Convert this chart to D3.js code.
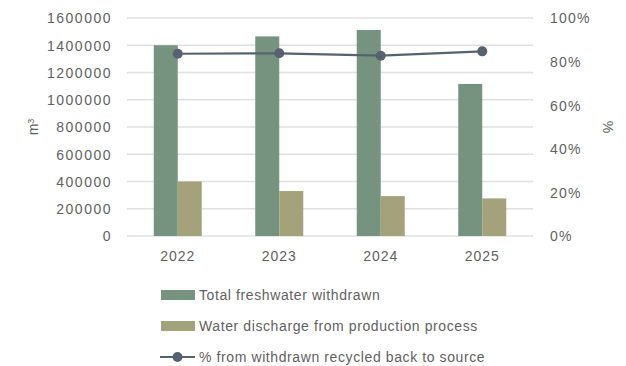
<!DOCTYPE html>
<html>
<head>
<meta charset="UTF-8">
<script src="https://d3js.org/d3.v7.min.js"></script>
<style>
  body { margin: 0; background: #fff; }
  svg text { font-family: "Liberation Sans", Arial, sans-serif; fill: #5f5f5f; }
</style>
</head>
<body>
<svg id="chart" width="626" height="366"></svg>
<script>
// data
const years = ["2022", "2023", "2024", "2025"];
const withdrawn = [1400000, 1465000, 1512000, 1116000];
const discharge = [400000, 330000, 293000, 276000];
const recycledPct = [0.836, 0.838, 0.827, 0.847];
const leftTicks = [0, 200000, 400000, 600000, 800000, 1000000, 1200000, 1400000, 1600000];
const rightTicks = [0, 0.2, 0.4, 0.6, 0.8, 1];
const legendLabels = ["Total freshwater withdrawn", "Water discharge from production process", "% from withdrawn recycled back to source"];

const green = "#76937f", tan = "#a3a27b", lineCol = "#566270";

const svg = d3.select("#chart");
const m = { left: 127, right: 93, top: 18, bottom: 130 };
const W = 626, H = 366;

const x = d3.scaleBand().domain(years).range([m.left, W - m.right]);
const yL = d3.scaleLinear().domain([0, 1600000]).range([H - m.bottom, m.top]);
const yR = d3.scaleLinear().domain([0, 1]).range([H - m.bottom, m.top]);
const barW = 24;

// gridlines
svg.append("g")
    .selectAll("line")
    .data(leftTicks)
    .join("line")
    .attr("x1", m.left).attr("x2", W - m.right)
    .attr("y1", d => yL(d)).attr("y2", d => yL(d))
    .attr("stroke", "#e0e0e0").attr("stroke-width", 1.3);

// left axis
const gl = svg.append("g")
    .attr("transform", `translate(${m.left - 15},0)`)
    .call(d3.axisLeft(yL).tickValues(leftTicks).tickSize(0).tickPadding(0).tickFormat(d3.format("d")));
gl.select(".domain").remove();
gl.selectAll("text").style("font-size", "14px").style("letter-spacing", "1.5px").attr("dy", "0.35em");

// right axis
const gr = svg.append("g")
    .attr("transform", `translate(${W - m.right + 17},0)`)
    .call(d3.axisRight(yR).tickValues(rightTicks).tickSize(0).tickPadding(0).tickFormat(d => Math.round(d * 100) + "%"));
gr.select(".domain").remove();
gr.selectAll("text").style("font-size", "14px").style("letter-spacing", "1.2px").attr("dy", "0.35em");

// x axis
const gx = svg.append("g")
    .attr("transform", `translate(0,${H - m.bottom + 15})`)
    .call(d3.axisBottom(x).tickSize(0).tickPadding(0));
gx.select(".domain").remove();
gx.selectAll("text").style("font-size", "14px").style("letter-spacing", "1px").attr("dy", "0.71em");

// bars
svg.append("g").selectAll("rect")
    .data(years)
    .join("rect")
    .attr("x", d => x(d) + x.bandwidth() / 2 - barW)
    .attr("y", (d, i) => yL(withdrawn[i]))
    .attr("width", barW)
    .attr("height", (d, i) => yL(0) - yL(withdrawn[i]))
    .attr("fill", green);

svg.append("g").selectAll("rect")
    .data(years)
    .join("rect")
    .attr("x", d => x(d) + x.bandwidth() / 2)
    .attr("y", (d, i) => yL(discharge[i]))
    .attr("width", barW)
    .attr("height", (d, i) => yL(0) - yL(discharge[i]))
    .attr("fill", tan);

// line
const line = d3.line()
    .x(d => x(d.year) + x.bandwidth() / 2)
    .y(d => yR(d.v));
const pts = years.map((y, i) => ({ year: y, v: recycledPct[i] }));
svg.append("path")
    .datum(pts)
    .attr("d", line)
    .attr("fill", "none")
    .attr("stroke", lineCol)
    .attr("stroke-width", 2.2);
svg.append("g").selectAll("circle")
    .data(pts)
    .join("circle")
    .attr("cx", d => x(d.year) + x.bandwidth() / 2)
    .attr("cy", d => yR(d.v))
    .attr("r", 5)
    .attr("fill", lineCol);

// axis titles
const m3 = svg.append("text")
    .attr("transform", `translate(38,${(m.top + H - m.bottom) / 2}) rotate(-90)`)
    .attr("text-anchor", "middle")
    .style("font-size", "14px");
m3.append("tspan").text("m");
m3.append("tspan").attr("dy", "-0.45em").style("font-size", "9px").text("3");

svg.append("text")
    .attr("transform", `translate(603,${(m.top + H - m.bottom) / 2}) rotate(90)`)
    .attr("text-anchor", "middle")
    .style("font-size", "14px")
    .text("%");

// legend
const lg = svg.append("g");
const rowY = [295, 326, 357];
[green, tan].forEach((c, i) => {
    lg.append("rect")
        .attr("x", 161).attr("y", rowY[i] - 5)
        .attr("width", 34).attr("height", 10)
        .attr("fill", c);
});
lg.append("line")
    .attr("x1", 160).attr("x2", 195)
    .attr("y1", rowY[2]).attr("y2", rowY[2])
    .attr("stroke", lineCol).attr("stroke-width", 2.2);
lg.append("circle")
    .attr("cx", 177.5).attr("cy", rowY[2]).attr("r", 5).attr("fill", lineCol);
legendLabels.forEach((t, i) => {
    lg.append("text")
        .attr("x", 199).attr("y", rowY[i])
        .attr("dy", "0.35em")
        .style("font-size", "14px")
        .style("letter-spacing", "0.6px")
        .text(t);
});
</script>
</body>
</html>
